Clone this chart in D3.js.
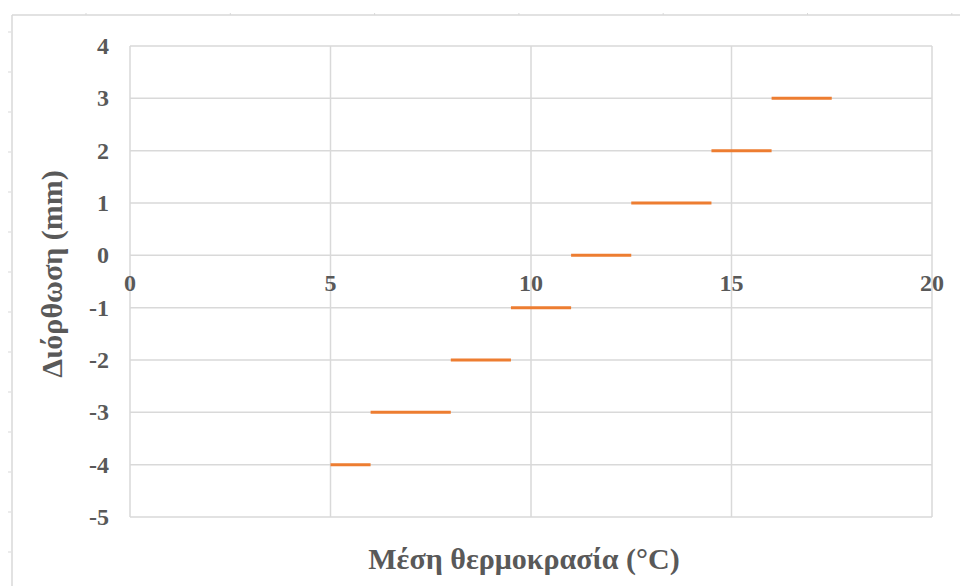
<!DOCTYPE html>
<html>
<head>
<meta charset="utf-8">
<script src="https://cdn.jsdelivr.net/npm/d3@7.9.0/dist/d3.min.js"></script>
<style>
  body { margin: 0; background: #fff; }
  svg text { font-family: "Liberation Serif", "Times New Roman", serif; font-weight: bold; fill: #595959; }
</style>
</head>
<body>
<svg id="chart" width="960" height="586"></svg>
<script>
// step segments: each level of correction holds over a temperature range
const corrections = [-4, -3, -2, -1, 0, 1, 2, 3];
const tempStart = [5, 6, 8, 9.5, 11, 12.5, 14.5, 16];
const tempEnd = [6, 8, 9.5, 11, 12.5, 14.5, 16, 17.5];
const xTicks = [0, 5, 10, 15, 20];
const yTicks = [4, 3, 2, 1, 0, -1, -2, -3, -4, -5];
const xTitle = "Μέση θερμοκρασία (°C)";
const yTitle = "Διόρθωση (mm)";

let svg = d3.select('#chart');
let margin = { top: 46, right: 28, bottom: 69, left: 130 };
let width = 960 - margin.left - margin.right;
let height = 586 - margin.top - margin.bottom;

// page frame (left + top edges with small marks)
let frame = svg.append("g").attr("stroke", "#d9d9d9").attr("stroke-width", 1.5);
frame.append("line").attr("x1", 12).attr("x2", 12).attr("y1", 15).attr("y2", 586);
frame.append("line").attr("x1", 12).attr("x2", 960).attr("y1", 15).attr("y2", 15);
d3.range(32, 586, 40).forEach(y => {
  frame.append("line").attr("x1", 8).attr("x2", 11).attr("y1", y).attr("y2", y).attr("stroke-width", 1);
});
d3.range(86, 960, 144.3).forEach(x => {
  frame.append("line").attr("x1", x).attr("x2", x).attr("y1", 13).attr("y2", 15).attr("stroke-width", 1);
});

let g = svg.append("g").attr("transform", `translate(${margin.left},${margin.top})`);
let xScale = d3.scaleLinear().domain([0, 20]).range([0, width]);
let yScale = d3.scaleLinear().domain([-5, 4]).range([height, 0]);

// grid
g.append("g")
  .selectAll("line")
  .data(yTicks)
  .enter().append("line")
    .attr("x1", 0).attr("x2", width)
    .attr("y1", d => yScale(d)).attr("y2", d => yScale(d))
    .attr("stroke", "#d9d9d9").attr("stroke-width", 1.5);
g.append("g")
  .selectAll("line")
  .data(xTicks)
  .enter().append("line")
    .attr("x1", d => xScale(d)).attr("x2", d => xScale(d))
    .attr("y1", 0).attr("y2", height)
    .attr("stroke", "#d9d9d9").attr("stroke-width", 1.5);

// y tick labels
g.append("g")
  .selectAll("text")
  .data(yTicks)
  .enter().append("text")
    .attr("x", -21)
    .attr("y", d => yScale(d))
    .attr("dy", "0.34em")
    .attr("text-anchor", "end")
    .attr("font-size", "24px")
    .text(d => d);

// x tick labels sit just under the zero line
g.append("g")
  .selectAll("text")
  .data(xTicks)
  .enter().append("text")
    .attr("x", d => xScale(d))
    .attr("y", yScale(0) + 36)
    .attr("text-anchor", "middle")
    .attr("font-size", "24px")
    .text(d => d);

// segments
let segs = corrections.map((c, i) => ({ y: c, x0: tempStart[i], x1: tempEnd[i] }));
g.append("g")
  .selectAll("line")
  .data(segs)
  .enter().append("line")
    .attr("x1", d => xScale(d.x0))
    .attr("x2", d => xScale(d.x1))
    .attr("y1", d => yScale(d.y))
    .attr("y2", d => yScale(d.y))
    .attr("stroke", "#ED7D31")
    .attr("stroke-width", 3);

// axis titles
svg.append("text")
  .attr("x", 524)
  .attr("y", 569)
  .attr("text-anchor", "middle")
  .attr("font-size", "30px")
  .text(xTitle);
svg.append("text")
  .attr("transform", "rotate(-90)")
  .attr("x", -274)
  .attr("y", 62)
  .attr("text-anchor", "middle")
  .attr("font-size", "30px")
  .text(yTitle);
</script>
</body>
</html>
